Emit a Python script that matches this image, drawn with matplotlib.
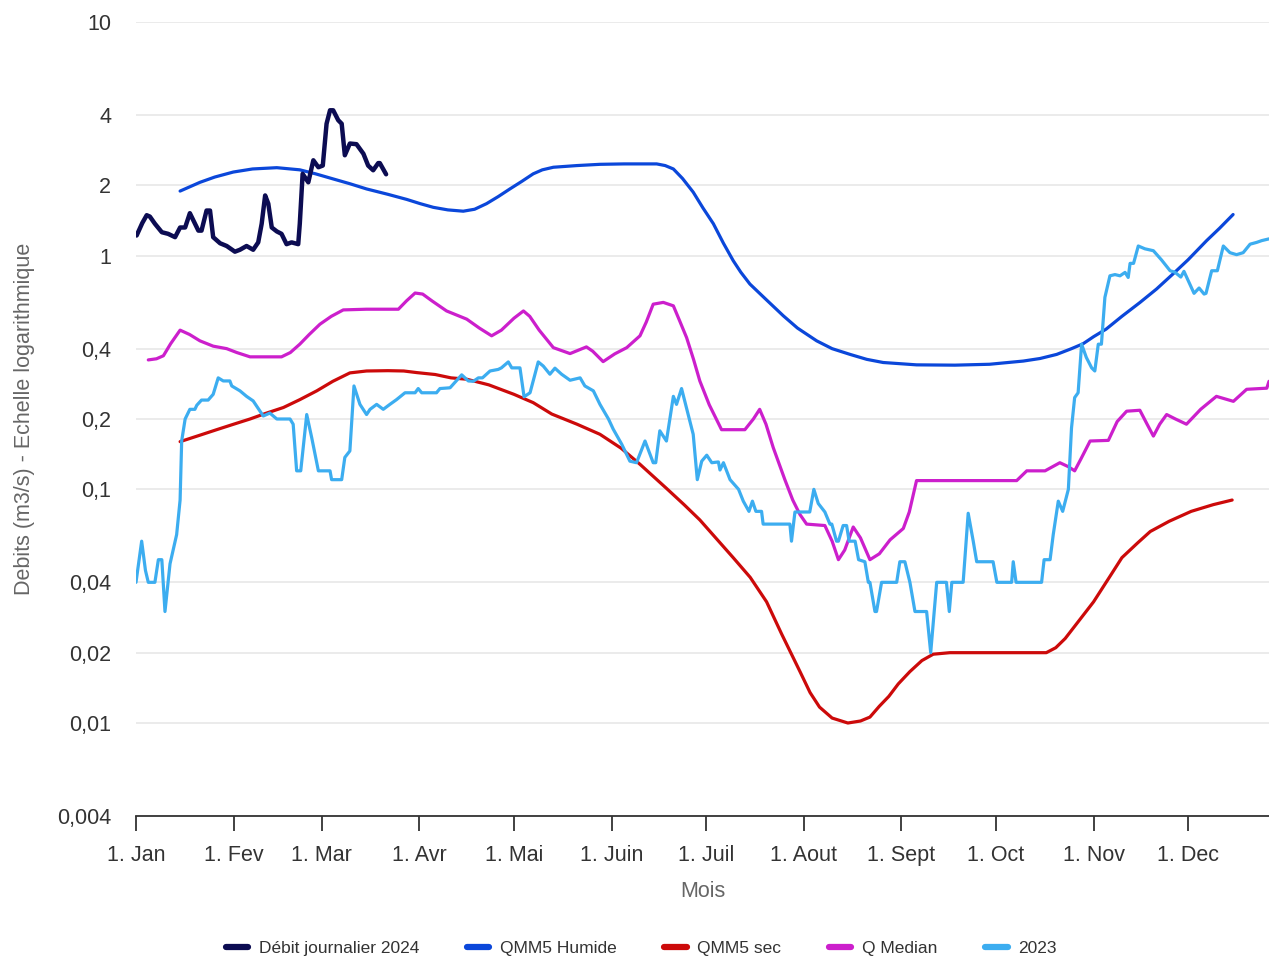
import numpy as np
import matplotlib.pyplot as plt
from matplotlib.ticker import FixedLocator, NullLocator

plt.rcParams['font.family'] = ['Liberation Sans', 'DejaVu Sans']

# month starts (day of year) and labels
month_days = [0, 31, 59, 90, 120, 151, 181, 212, 243, 273, 304, 334]
month_labels = ['1. Jan', '1. Fev', '1. Mar', '1. Avr', '1. Mai', '1. Juin',
                '1. Juil', '1. Aout', '1. Sept', '1. Oct', '1. Nov', '1. Dec']

y_ticks = [0.004, 0.01, 0.02, 0.04, 0.1, 0.2, 0.4, 1, 2, 4, 10]
y_labels = ['0,004', '0,01', '0,02', '0,04', '0,1', '0,2', '0,4', '1', '2', '4', '10']

# Débit journalier 2024
day_2024 = [0.2, 2, 3.4, 4.4, 6, 8.2, 10.2, 12.4, 14, 15.6, 17.1, 19.8, 20.8, 22.4, 23.5,
            24.5, 26.7, 28.8, 31.4, 33, 35.1, 37.2, 38.8, 39.9, 41, 42, 43.1, 44.7, 46.2,
            47.8, 49.4, 51.5, 52, 52.9, 54.7, 56.3, 57.9, 59.3, 60.5, 61.6, 62.6, 64.2,
            65.3, 66.3, 67.9, 70, 72.2, 73.7, 75.3, 76.9, 77.4, 79.4]
q_2024 = [1.22, 1.38, 1.49, 1.47, 1.37, 1.26, 1.24, 1.20, 1.32, 1.32, 1.52, 1.28, 1.28, 1.56,
          1.56, 1.20, 1.13, 1.10, 1.04, 1.06, 1.10, 1.06, 1.14, 1.37, 1.81, 1.67, 1.32, 1.27,
          1.24, 1.12, 1.14, 1.12, 1.37, 2.24, 2.06, 2.56, 2.39, 2.43, 3.67, 4.19, 4.19, 3.80,
          3.67, 2.69, 3.02, 3.00, 2.73, 2.43, 2.32, 2.49, 2.49, 2.23]

# QMM5 Humide
day_hum = [14, 20.3, 25, 30.9, 37, 44.7, 52, 57, 62.6, 68, 73.2, 80, 86, 90.2, 94.4, 99,
           103.9, 107.5, 111.3, 115, 118.7, 122.5, 126.1, 129, 132.5, 140, 147.3, 155, 165.3,
           168, 170.6, 173.5, 176.9, 180, 183.3, 186.5, 189.6, 192, 194.9, 200, 205.5, 210,
           216.1, 221, 226.7, 232, 237.2, 247.8, 260, 271, 281.7, 287, 292.3, 297, 300.7,
           304, 308, 313, 318.7, 324, 329, 334, 339.9, 344, 348.3]
q_hum = [1.89, 2.06, 2.17, 2.28, 2.35, 2.38, 2.33, 2.24, 2.13, 2.03, 1.93, 1.83, 1.74, 1.67,
         1.61, 1.57, 1.55, 1.58, 1.67, 1.79, 1.93, 2.08, 2.24, 2.33, 2.39, 2.43, 2.46, 2.47,
         2.47, 2.43, 2.35, 2.14, 1.87, 1.60, 1.37, 1.13, 0.952, 0.85, 0.756, 0.65, 0.553, 0.49,
         0.432, 0.40, 0.378, 0.36, 0.349, 0.341, 0.34, 0.343, 0.354, 0.363, 0.378, 0.40, 0.42,
         0.45, 0.485, 0.55, 0.63, 0.72, 0.83, 0.96, 1.16, 1.31, 1.50]

# QMM5 sec
day_sec = [14, 20, 25.6, 31, 36.2, 41, 46.8, 52, 57.4, 62.5, 67.9, 73.2, 80, 85, 89.1, 95,
           100, 105, 112, 120, 126.1, 132, 140, 147.3, 154, 160, 168.4, 174, 179, 184.5,
           189.6, 195, 200.2, 205, 210.8, 214, 217, 221, 226, 230, 233, 236, 239, 242, 245.7,
           249.5, 253.1, 258.4, 289, 292, 295, 299, 304, 309, 313, 318, 322, 328, 335, 342, 348]
q_sec = [0.160, 0.17, 0.180, 0.19, 0.200, 0.211, 0.224, 0.242, 0.264, 0.29, 0.315, 0.321,
         0.322, 0.321, 0.316, 0.31, 0.30, 0.296, 0.28, 0.255, 0.235, 0.21, 0.19, 0.172, 0.15,
         0.128, 0.101, 0.086, 0.074, 0.061, 0.051, 0.042, 0.033, 0.024, 0.0166, 0.0135,
         0.0117, 0.0105, 0.010, 0.0102, 0.0106, 0.0118, 0.013, 0.0147, 0.0166, 0.0185, 0.0197,
         0.020, 0.020, 0.021, 0.023, 0.027, 0.033, 0.042, 0.051, 0.059, 0.066, 0.073, 0.0805,
         0.086, 0.090]

# Q Median
day_med = [3.9, 6.5, 8.7, 11, 14, 17, 20.3, 24.5, 28.8, 32, 36.2, 46.2, 49, 52, 55, 58.4, 62,
           65.8, 73.2, 83.3, 85.9, 88.6, 91, 94, 98.6, 105, 109, 112.9, 116, 120, 123, 125,
           128, 132.5, 137.8, 143, 145, 148.3, 152, 155.8, 160, 162, 164.2, 167.4, 170.6,
           172.5, 174.8, 177, 179, 182, 185.9, 193.3, 196, 198, 200, 202.3, 206, 208.5, 210.8,
           212.9, 218.7, 221, 223, 225, 227.7, 230, 233, 236, 239.4, 243.6, 245.5, 247.8,
           279.6, 282.8, 288.6, 293.3, 296, 298, 300, 302.9, 308.7, 311.5, 314.5, 318.7, 321,
           323, 325, 327.2, 330, 333.5, 338, 343, 348.4, 352.6, 359, 359.7]
q_med = [0.358, 0.362, 0.373, 0.42, 0.480, 0.46, 0.432, 0.410, 0.400, 0.385, 0.369, 0.369,
         0.385, 0.418, 0.46, 0.509, 0.55, 0.586, 0.590, 0.590, 0.641, 0.692, 0.685, 0.64,
         0.580, 0.535, 0.49, 0.454, 0.48, 0.54, 0.580, 0.55, 0.48, 0.404, 0.381, 0.407, 0.39,
         0.352, 0.38, 0.404, 0.454, 0.52, 0.62, 0.631, 0.610, 0.53, 0.446, 0.36, 0.291, 0.23,
         0.180, 0.180, 0.2, 0.220, 0.19, 0.151, 0.11, 0.09, 0.078, 0.071, 0.070, 0.06, 0.050,
         0.055, 0.069, 0.062, 0.050, 0.053, 0.0608, 0.068, 0.08, 0.109, 0.109, 0.120, 0.120,
         0.130, 0.125, 0.120, 0.135, 0.161, 0.162, 0.195, 0.216, 0.218, 0.19, 0.169, 0.19,
         0.209, 0.2, 0.190, 0.22, 0.250, 0.238, 0.268, 0.271, 0.290]

# 2023
day_23 = [0.0, 1.8, 3.0, 3.9, 6.0, 7.1, 8.2, 9.2, 10.8, 12.9, 14.0, 14.5, 15.6, 17.1, 18.7,
          19.3, 20.8, 22.9, 24.5, 26.1, 27.7, 29.8, 30.4, 33.0, 35.1, 37.2, 40.4, 42.5, 44.7,
          48.9, 49.9, 51.0, 52.3, 54.2, 55.8, 57.9, 61.6, 62.1, 65.3, 66.3, 67.9, 69.2, 71.1,
          73.2, 74.3, 76.4, 78.5, 80.6, 82.7, 85.4, 88.6, 89.6, 90.7, 95.4, 96.5, 99.7, 103.4,
          105.5, 107.1, 108.7, 110.0, 112.4, 115.0, 116.0, 118.2, 119.3, 121.9, 123.2, 125.1,
          127.7, 129.3, 131.4, 133.0, 135.1, 137.8, 141.0, 142.5, 145.2, 147.3, 150.0, 151.5,
          154.2, 156.8, 158.9, 161.6, 164.2, 165.0, 166.3, 168.4, 170.6, 171.6, 173.2, 176.9,
          178.2, 179.6, 181.2, 182.8, 184.9, 185.4, 186.5, 188.6, 191.3, 192.8, 194.6, 195.7,
          196.8, 198.6, 199.1, 207.6, 208.1, 209.2, 213.9, 215.2, 216.6, 218.7, 220.3, 220.9,
          222.4, 223.0, 224.5, 225.6, 226.4, 228.3, 229.4, 231.4, 232.5, 233.0, 234.6, 235.1,
          236.7, 241.5, 242.5, 244.1, 245.7, 247.3, 251.0, 252.3, 254.2, 257.3, 258.2, 259.0,
          262.6, 264.2, 265.8, 266.9, 272.1, 273.3, 278.0, 278.5, 279.4, 287.5, 288.3, 290.2,
          291.2, 292.8, 294.2, 296.0, 297.0, 298.0, 299.1, 300.2, 301.7, 303.4, 304.4, 305.5,
          306.5, 307.6, 309.2, 310.8, 312.4, 314.0, 315.0, 315.6, 316.7, 318.2, 320.3, 323.0,
          325.6, 328.3, 329.8, 331.7, 332.7, 334.3, 335.9, 337.5, 339.1, 339.7, 341.5, 343.3,
          345.2, 347.3, 349.4, 351.5, 353.7, 355.8, 357.4, 359.7]
q_23 = [0.040, 0.060, 0.045, 0.040, 0.040, 0.050, 0.050, 0.030, 0.048, 0.064, 0.090, 0.161,
        0.200, 0.220, 0.220, 0.229, 0.241, 0.241, 0.255, 0.300, 0.291, 0.291, 0.277, 0.264,
        0.250, 0.239, 0.206, 0.212, 0.200, 0.200, 0.190, 0.120, 0.120, 0.209, 0.166, 0.120,
        0.120, 0.110, 0.110, 0.137, 0.146, 0.277, 0.231, 0.209, 0.220, 0.231, 0.220, 0.231,
        0.242, 0.259, 0.259, 0.270, 0.259, 0.259, 0.270, 0.272, 0.309, 0.291, 0.290, 0.300,
        0.300, 0.321, 0.326, 0.331, 0.351, 0.331, 0.331, 0.249, 0.259, 0.351, 0.337, 0.311,
        0.330, 0.311, 0.293, 0.300, 0.277, 0.264, 0.231, 0.200, 0.181, 0.156, 0.132, 0.130,
        0.161, 0.130, 0.130, 0.178, 0.161, 0.250, 0.231, 0.270, 0.172, 0.110, 0.132, 0.140,
        0.130, 0.131, 0.121, 0.130, 0.110, 0.100, 0.089, 0.0805, 0.089, 0.0805, 0.0805, 0.071,
        0.071, 0.060, 0.080, 0.080, 0.100, 0.087, 0.080, 0.071, 0.071, 0.060, 0.060, 0.070,
        0.070, 0.060, 0.060, 0.050, 0.049, 0.040, 0.040, 0.030, 0.030, 0.040, 0.040, 0.049,
        0.049, 0.040, 0.030, 0.030, 0.020, 0.040, 0.040, 0.030, 0.040, 0.040, 0.079, 0.060,
        0.049, 0.049, 0.040, 0.040, 0.049, 0.040, 0.040, 0.050, 0.050, 0.064, 0.089, 0.0805,
        0.100, 0.183, 0.247, 0.259, 0.418, 0.367, 0.331, 0.321, 0.418, 0.418, 0.663, 0.820,
        0.830, 0.820, 0.848, 0.807, 0.927, 0.927, 1.100, 1.070, 1.050, 0.958, 0.862, 0.850,
        0.810, 0.857, 0.768, 0.690, 0.727, 0.685, 0.690, 0.862, 0.862, 1.100, 1.030, 1.010,
        1.030, 1.120, 1.140, 1.160, 1.180]

fig = plt.figure(figsize=(12.69, 9.58), dpi=100)
ax = fig.add_axes([136 / 1269, 1 - 816 / 958, 1 - 136 / 1269, (816 - 22) / 958])

ax.plot(day_hum, q_hum, color='#0b47da', lw=2.3, label='QMM5 Humide', zorder=3,
        solid_capstyle='round', solid_joinstyle='round')
ax.plot(day_sec, q_sec, color='#cc0a0a', lw=2.3, label='QMM5 sec', zorder=4,
        solid_capstyle='round', solid_joinstyle='round')
ax.plot(day_med, q_med, color='#cc1fcc', lw=2.3, label='Q Median', zorder=5,
        solid_capstyle='round', solid_joinstyle='round')
ax.plot(day_23, q_23, color='#3cadf0', lw=2.3, label='2023', zorder=6,
        solid_capstyle='round', solid_joinstyle='round')
ax.plot(day_2024, q_2024, color='#0c0c52', lw=3.2, label='Débit journalier 2024', zorder=7,
        solid_capstyle='round', solid_joinstyle='round')

ax.set_yscale('log')
ax.set_ylim(0.004, 10)
ax.set_xlim(0, 359.7)
ax.yaxis.set_major_locator(FixedLocator(y_ticks))
ax.yaxis.set_minor_locator(NullLocator())
ax.set_yticklabels(y_labels)
ax.set_xticks(month_days)
ax.set_xticklabels(month_labels)

ax.grid(axis='y', color='#e6e6e6', lw=1.1)
ax.set_axisbelow(True)
for s in ['top', 'right', 'left']:
    ax.spines[s].set_visible(False)
ax.spines['bottom'].set_color('#333333')
ax.spines['bottom'].set_linewidth(1.3)
ax.tick_params(axis='y', length=0, pad=18, labelsize=15.5, labelcolor='#333333')
ax.tick_params(axis='x', length=11, width=1.3, color='#333333', pad=10,
               labelsize=15.5, labelcolor='#333333')

ax.set_xlabel('Mois', fontsize=15.5, color='#666666', labelpad=11)
ax.set_ylabel('Debits (m3/s) - Echelle logarithmique', fontsize=15.5, color='#666666',
              labelpad=16)

handles, labels = ax.get_legend_handles_labels()
order = [4, 0, 1, 2, 3]
leg = fig.legend([handles[i] for i in order], [labels[i] for i in order],
                 loc='center', bbox_to_anchor=(641 / 1269, 1 - 948 / 958), ncol=5,
                 frameon=False, fontsize=12.5, handlelength=1.3, handletextpad=0.6,
                 columnspacing=2.75, labelcolor='#333333')
for lh in leg.legend_handles:
    lh.set_linewidth(4.5)
    lh.set_solid_capstyle('round')

fig.savefig('out.png', dpi=100, facecolor='white')
